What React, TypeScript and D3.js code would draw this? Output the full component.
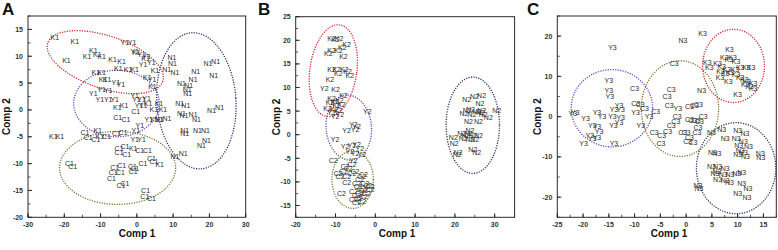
import React from "react";
import * as d3 from "d3";

type Pt = [number, number];

// ---------- Panel A data ----------
const A_K1: Pt[] = [
  [-22.6, 13.4], [-17.1, 12.8], [-19.4, 9.2], [-13.7, 9.9], [-12.0, 11.1], [-10.9, 10.4],
  [-9.7, 9.9], [-11.3, 7.0], [-9.7, 7.0], [-6.7, 9.4], [-5.1, 7.7], [-4.2, 9.1], [-2.4, 7.5],
  [-0.6, 7.5], [-0.1, 10.6], [2.4, 9.5], [2.9, 6.1], [5.0, 7.4], [-9.3, 5.6], [-8.2, 5.6],
  [4.3, 4.4], [-5.4, 0.5], [-3.5, 0.9], [4.7, 0.1], [7.2, 0.0], [-23.0, -4.9], [-21.2, -4.9],
  [-10.8, -3.9], [-1.0, -7.1], [6.3, -10.1], [-10.2, -5.0], [3.1, 1.1], [6.1, 1.25],
];
const A_Y1: Pt[] = [
  [-3.3, 12.6], [-1.3, 12.6], [-0.6, 10.9], [1.3, 10.3], [2.7, 9.9], [4.0, 8.9], [1.7, 8.4],
  [-5.8, 5.1], [-4.4, 4.7], [-9.7, 3.75], [-7.9, 3.6], [-12.0, 3.1], [-10.2, 2.0], [-7.9, 2.0],
  [-6.1, 2.0], [-0.6, 2.7], [1.3, 1.9], [2.7, 2.2], [4.2, 5.6], [3.3, -1.75], [4.7, -1.75],
  [6.3, -1.7], [0.8, -3.0], [-0.3, -3.75], [-0.6, -5.5], [1.3, -5.5], [-0.1, 1.9], [0.6, 0.9],
  [1.7, 0.75],
];
const A_N1: Pt[] = [
  [19.6, 8.6], [21.7, 9.1], [21.2, 6.4], [9.8, 8.6], [8.2, 7.6], [10.5, 7.0], [16.2, 7.2],
  [15.5, 5.6], [12.3, 4.9], [14.3, 4.5], [13.9, 3.75], [14.0, 3.1], [11.8, 1.1], [13.5, 0.75],
  [12.3, -0.6], [13.0, -1.1], [15.5, -0.9], [16.4, -1.75], [20.6, -0.2], [22.8, 0.4], [8.3, -1.6],
  [6.1, -1.7], [13.2, -3.9], [13.2, -4.4], [16.7, -3.75], [18.9, -3.75], [17.8, -6.6],
  [19.2, -5.75], [10.5, -8.75], [12.8, -8.1], [9.7, 9.7],
];
const A_C1: Pt[] = [
  [-5.3, -1.4], [-3.0, -1.7], [-0.3, -0.3], [-14.3, -4.25], [-13.4, -5.1], [-11.3, -5.5],
  [-8.3, -5.0], [-5.6, -4.4], [-3.8, -4.25], [-4.9, -7.2], [-4.9, -8.0], [-2.8, -8.4],
  [-3.3, -6.9], [0.8, -7.5], [2.9, -7.5], [4.0, -9.1], [4.7, -9.7], [-18.6, -9.9], [-17.7, -10.5],
  [-6.1, -10.75], [-4.2, -10.3], [-6.5, -11.6], [-4.5, -11.7], [-1.2, -10.5], [-0.6, -10.9],
  [-1.0, -11.4], [1.7, -10.0], [-7.0, -12.8], [-4.4, -14.1], [-3.3, -13.75], [2.4, -15.1],
  [2.2, -16.1], [4.0, -16.6],
];
// ellipses: centre, semi-axes (data units), rotation (deg)
const A_ELLIPSES = [
  { group: "K", cx: -8.7, cy: 8.9, rx: 16.7, ry: 4.9, rot: 18.5 },
  { group: "Y", cx: -5.6, cy: 1.2, rx: 11.8, ry: 6.2, rot: 0 },
  { group: "N", cx: 16.4, cy: 1.7, rx: 10.9, ry: 12.7, rot: -4 },
  { group: "C", cx: -5.3, cy: -10.8, rx: 16.0, ry: 6.8, rot: 0 },
];
const A_XTICKS = [-30, -20, -10, 0, 10, 20, 30];
const A_YTICKS = [-20, -15, -10, -5, 0, 5, 10, 15];

// ---------- Panel B data ----------
const B_K2: Pt[] = [
  [-11.0, 20.4], [-10.0, 20.2], [-9.1, 20.4], [-7.2, 19.0], [-8.3, 18.5], [-11.0, 17.9],
  [-9.3, 17.8], [-11.8, 17.2], [-8.0, 16.5], [-11.0, 13.7], [-9.7, 13.8], [-9.3, 13.0],
  [-7.8, 13.8], [-6.4, 12.6], [-6.95, 13.3], [-11.4, 11.6], [-10.0, 9.5], [-8.0, 8.4],
  [-12.0, 5.6], [-11.4, 6.8], [-10.1, 7.0], [-9.0, 7.3], [-8.5, 6.3], [-10.3, 5.4], [-9.3, 5.1],
  [-11.0, 7.7], [-9.7, 6.1],
];
const B_Y2: Pt[] = [
  [-12.8, 9.8], [-10.1, 3.8], [-11.0, 4.7], [-8.9, 4.2], [-2.0, 4.8], [-5.5, 2.2], [-4.7, 1.7],
  [-7.2, 0.8], [-5.1, 1.0], [-10.1, -1.0], [-7.6, -2.5], [-5.9, -2.4], [-4.7, -2.0], [-3.9, -2.9],
  [-6.4, -3.6], [-5.1, -4.0], [-3.4, -4.3], [-5.5, -5.4],
];
const B_C2: Pt[] = [
  [-10.6, -5.4], [-7.6, -6.8], [-6.8, -7.1], [-5.9, -6.4], [-8.0, -7.8], [-9.3, -8.2],
  [-8.9, -8.9], [-7.2, -8.8], [-5.9, -8.3], [-5.1, -7.8], [-3.4, -8.9], [-3.9, -9.6], [-4.7, -10.3],
  [-3.0, -8.5], [-7.2, -10.2], [-4.3, -11.0], [-3.4, -11.4], [-2.6, -10.3], [-1.9, -10.7],
  [-1.3, -11.0], [-1.3, -11.7], [-3.0, -11.9], [-3.9, -12.4], [-4.7, -12.8], [-4.3, -13.5],
  [-3.0, -13.1], [-2.2, -12.4], [-5.5, -13.8], [-8.5, -12.4], [-5.5, -12.1], [-3.4, -14.1],
  [-4.7, -14.4],
];
const B_N2: Pt[] = [
  [23.0, 7.5], [24.9, 8.1], [26.7, 8.2], [26.3, 6.6], [30.5, 5.1], [23.1, 5.2], [23.9, 5.4],
  [22.3, 4.5], [25.5, 5.0], [26.5, 4.7], [24.3, 4.2], [27.1, 4.2], [28.4, 3.7], [23.4, 2.75],
  [25.9, 2.75], [23.8, 0.85], [21.7, 0.3], [22.7, -0.1], [23.4, 0.3], [24.6, -0.1], [25.9, -0.1],
  [22.1, -0.8], [23.8, -1.1], [25.0, -1.1], [19.6, -0.6], [19.8, -1.8], [20.8, -3.8], [20.6, -4.1],
  [24.5, -3.1], [25.5, -3.8], [26.7, 5.1],
];
const B_ELLIPSES = [
  { group: "K", cx: -10.55, cy: 13.56, rx: 5.9, ry: 9.8, rot: 8 },
  { group: "Y", cx: -6.66, cy: 1.5, rx: 5.7, ry: 6.9, rot: -5 },
  { group: "C", cx: -5.7, cy: -9.5, rx: 5.2, ry: 6.1, rot: 0 },
  { group: "N", cx: 24.5, cy: 2.0, rx: 6.7, ry: 10.2, rot: 0 },
];
const B_XTICKS = [-20, -10, 0, 10, 20, 30];
const B_YTICKS = [-15, -10, -5, 0, 5, 10, 15, 20, 25];

// ---------- Panel C data ----------
const C_Y3: Pt[] = [
  [-14.3, 17.1], [-15.0, 8.9], [-15.0, 6.5], [-14.8, 5.0], [-13.0, 2.7], [-14.0, 1.8], [-12.7, 1.7],
  [-14.3, 0], [-12.7, -0.2], [-14.1, -2.1], [-13.0, -1.5], [-21.5, 1.0], [-22.0, 0.8], [-19.5, -0.4],
  [-17.3, 1.0], [-16.3, 0], [-18.2, -2.3], [-17.3, -2.5], [-16.9, -3.75], [-18.7, -4.6],
  [-18.2, -5.4], [-17.3, -5.25], [-19.9, -6.7], [-14.0, -6.7], [-8.8, -2.1], [-9.8, 1.0],
  [-1.6, 2.1], [-7.2, 0],
];
const C_C3: Pt[] = [
  [-2.3, 13.1], [-10.0, 7.1], [-2.9, 6.7], [-3.7, 5.0], [-3.3, 2.7], [-9.8, 3.3], [-8.9, 3.1],
  [-8.1, 2.1], [-5.9, 1.25], [0.65, 2.5], [1.6, 2.7], [2.4, 2.9], [-1.75, 0], [-2.0, -1.25],
  [-2.9, -2.1], [0.65, -0.8], [1.3, -1.0], [1.95, -1.0], [2.6, -1.25], [3.3, 0], [2.3, -2.7],
  [2.1, -4.0], [-6.2, -4.0], [-4.75, -4.6], [-3.6, -3.75], [-0.65, -4.0], [0, -4.0], [0.65, -5.2],
  [0.3, -6.25], [1.3, -6.5], [-4.9, -6.8],
];
const C_K3: Pt[] = [
  [3.2, 20.7], [8.4, 16.7], [7.4, 14.8], [9.0, 14.8], [8.3, 14.3], [9.7, 13.75], [4.1, 13.5],
  [4.5, 12.1], [6.1, 13.3], [6.9, 12.5], [7.9, 11.7], [8.5, 11.0], [9.5, 11.8], [10.5, 12.1],
  [11.7, 12.1], [12.6, 12.1], [6.7, 11.25], [7.6, 10.8], [6.6, 9.6], [8.2, 8.75], [9.7, 10.4],
  [10.5, 9.8], [11.3, 9.3], [11.8, 8.75], [13.0, 8.3], [12.3, 7.5], [13.0, 7.1], [11.5, 7.9],
  [10.0, 5.4],
];
const C_N3: Pt[] = [
  [-0.6, 18.9], [3.0, 6.5], [4.9, -3.9], [6.9, -3.3], [10.0, -3.5], [11.4, -4.2], [7.6, -5.4],
  [9.7, -5.4], [11.1, -6.1], [10.2, -7.3], [10.5, -8.3], [12.1, -7.5], [11.1, -9.0], [10.0, -9.3],
  [11.5, -9.8], [14.4, -9.2], [14.5, -10.2], [5.1, -9.0], [6.0, -9.2], [4.9, -12.5], [6.1, -12.5],
  [5.6, -14.2], [6.0, -13.75], [7.6, -12.9], [7.2, -14.3], [8.5, -14.3], [9.8, -14.2],
  [10.8, -14.0], [6.1, -15.7], [7.6, -15.8], [8.4, -16.25], [10.8, -16.7], [12.0, -17.9],
  [10.0, -19.2], [11.8, -20.2], [2.3, -17.1], [2.5, -17.9],
];
const C_ELLIPSES = [
  { group: "Y", cx: -14.4, cy: 2.1, rx: 7.9, ry: 9.6, rot: 0 },
  { group: "C", cx: -1.2, cy: 2.0, rx: 7.5, ry: 11.9, rot: 0 },
  { group: "K", cx: 9.2, cy: 12.6, rx: 6.0, ry: 9.1, rot: 0 },
  { group: "N", cx: 9.7, cy: -12.8, rx: 7.7, ry: 11.3, rot: 0 },
];
const C_XTICKS = [-25, -20, -15, -10, -5, 0, 5, 10, 15];
const C_YTICKS = [-20, -10, 0, 10, 20];

// ---------- styles ----------
const ELLIPSE_COLORS: Record<string, string> = {
  K: "#d3262b",
  Y: "#6a46c4",
  N: "#28366f",
  C: "#77782f",
};
const LABEL_COLOR = "#2a2a2a";
const AXIS_COLOR = "#2a2a2a";
const FONT = "'Liberation Sans', Arial, sans-serif";

type Group = { label: string; pts: Pt[] };
type Ell = { group: string; cx: number; cy: number; rx: number; ry: number; rot: number };

type PanelProps = {
  letter: string;
  letterX: number;
  frame: { left: number; right: number; top: number; bottom: number };
  xDomain: [number, number];
  yDomain: [number, number];
  xTicks: number[];
  yTicks: number[];
  xMinor: number;
  yMinor: number;
  groups: Group[];
  ellipses: Ell[];
  yTitleX: number;
  xTitleX: number;
};

function Panel(p: PanelProps) {
  const { frame } = p;
  const x = d3.scaleLinear().domain(p.xDomain).range([frame.left, frame.right]);
  const y = d3.scaleLinear().domain(p.yDomain).range([frame.bottom, frame.top]);
  const xMinorTicks = d3.range(p.xDomain[0], p.xDomain[1] + 1e-6, p.xMinor);
  const yMinorTicks = d3.range(p.yDomain[0], p.yDomain[1] + 1e-6, p.yMinor);
  const midY = (frame.top + frame.bottom) / 2;
  return (
    <g>
      <text x={p.letterX} y={15} fontFamily={FONT} fontWeight="bold" fontSize={17} fill="#111">
        {p.letter}
      </text>
      {/* ellipses */}
      {p.ellipses.map((e, i) => {
        const cx = x(e.cx);
        const cy = y(e.cy);
        const rx = Math.abs(x(e.cx + e.rx) - cx);
        const ry = Math.abs(y(e.cy + e.ry) - cy);
        return (
          <ellipse
            key={i}
            cx={cx}
            cy={cy}
            rx={rx}
            ry={ry}
            transform={`rotate(${e.rot},${cx},${cy})`}
            fill="none"
            stroke={ELLIPSE_COLORS[e.group]}
            strokeWidth={1.3}
            strokeDasharray="1.2,1.3"
          />
        );
      })}
      {/* labels */}
      {p.groups.map((g) =>
        g.pts.map((pt, i) => (
          <text
            key={g.label + i}
            x={x(pt[0])}
            y={y(pt[1])}
            dy="0.35em"
            textAnchor="middle"
            fontFamily={FONT}
            fontSize={7}
            fill={LABEL_COLOR}
          >
            {g.label}
          </text>
        ))
      )}
      {/* frame */}
      <rect
        x={frame.left}
        y={frame.top}
        width={frame.right - frame.left}
        height={frame.bottom - frame.top}
        fill="none"
        stroke={AXIS_COLOR}
        strokeWidth={1}
      />
      {/* minor ticks */}
      {xMinorTicks.map((t, i) => (
        <line key={"xm" + i} x1={x(t)} x2={x(t)} y1={frame.bottom} y2={frame.bottom - 2.5} stroke={AXIS_COLOR} strokeWidth={0.8} />
      ))}
      {yMinorTicks.map((t, i) => (
        <line key={"ym" + i} x1={frame.left} x2={frame.left + 2.5} y1={y(t)} y2={y(t)} stroke={AXIS_COLOR} strokeWidth={0.8} />
      ))}
      {/* major ticks + labels */}
      {p.xTicks.map((t) => (
        <g key={"xt" + t}>
          <line x1={x(t)} x2={x(t)} y1={frame.bottom} y2={frame.bottom - 4} stroke={AXIS_COLOR} strokeWidth={1} />
          <text x={x(t)} y={frame.bottom + 10} textAnchor="middle" fontFamily={FONT} fontSize={7} fontWeight="bold" fill="#333">
            {t}
          </text>
        </g>
      ))}
      {p.yTicks.map((t) => (
        <g key={"yt" + t}>
          <line x1={frame.left} x2={frame.left + 4} y1={y(t)} y2={y(t)} stroke={AXIS_COLOR} strokeWidth={1} />
          <text x={frame.left - 5} y={y(t)} dy="0.35em" textAnchor="end" fontFamily={FONT} fontSize={7} fontWeight="bold" fill="#333">
            {t}
          </text>
        </g>
      ))}
      {/* axis titles */}
      <text x={p.xTitleX} y={237} textAnchor="middle" fontFamily={FONT} fontSize={10} fontWeight="bold" fill="#111">
        Comp 1
      </text>
      <text
        transform={`translate(${p.yTitleX},${midY}) rotate(-90)`}
        textAnchor="middle"
        fontFamily={FONT}
        fontSize={10}
        fontWeight="bold"
        fill="#111"
      >
        Comp 2
      </text>
    </g>
  );
}

export default function App() {
  return (
    <svg
      width={778}
      height={250}
      style={{ position: "absolute", left: 0, top: 0, background: "#fff" }}
    >
      <rect width={778} height={250} fill="#fff" />
      <Panel
        letter="A"
        letterX={2}
        frame={{ left: 28, right: 245.7, top: 16, bottom: 217.3 }}
        xDomain={[-30, 30]}
        yDomain={[-20, 17.5]}
        xTicks={A_XTICKS}
        yTicks={A_YTICKS}
        xMinor={5}
        yMinor={2.5}
        groups={[
          { label: "K1", pts: A_K1 },
          { label: "Y1", pts: A_Y1 },
          { label: "N1", pts: A_N1 },
          { label: "C1", pts: A_C1 },
        ]}
        ellipses={A_ELLIPSES}
        yTitleX={10}
        xTitleX={137}
      />
      <Panel
        letter="B"
        letterX={258}
        frame={{ left: 295.7, right: 514.6, top: 16.7, bottom: 217.3 }}
        xDomain={[-20, 35]}
        yDomain={[-17.5, 25]}
        xTicks={B_XTICKS}
        yTicks={B_YTICKS}
        xMinor={5}
        yMinor={2.5}
        groups={[
          { label: "K2", pts: B_K2 },
          { label: "Y2", pts: B_Y2 },
          { label: "C2", pts: B_C2 },
          { label: "N2", pts: B_N2 },
        ]}
        ellipses={B_ELLIPSES}
        yTitleX={280}
        xTitleX={397}
      />
      <Panel
        letter="C"
        letterX={527}
        frame={{ left: 557.3, right: 776.3, top: 16, bottom: 217.3 }}
        xDomain={[-25, 17.5]}
        yDomain={[-25, 25]}
        xTicks={C_XTICKS}
        yTicks={C_YTICKS}
        xMinor={2.5}
        yMinor={5}
        groups={[
          { label: "Y3", pts: C_Y3 },
          { label: "C3", pts: C_C3 },
          { label: "K3", pts: C_K3 },
          { label: "N3", pts: C_N3 },
        ]}
        ellipses={C_ELLIPSES}
        yTitleX={541}
        xTitleX={669}
      />
    </svg>
  );
}
